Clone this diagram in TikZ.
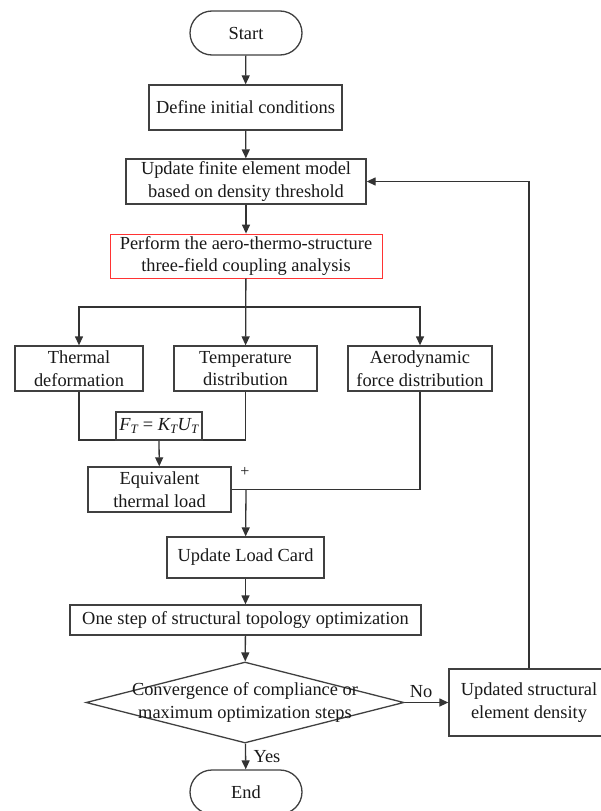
\documentclass[tikz,border=0pt]{standalone}
\usepackage{fontspec}
\setmainfont{Liberation Serif}
\usetikzlibrary{positioning, arrows.meta, calc, shapes.geometric}

\begin{document}
\begin{tikzpicture}[x=1pt, y=-1pt,
    every node/.style={font=\fontsize{18.4}{22.5}\selectfont, text=black!90},
    box/.style={draw=black!75, line width=1.3pt, align=center, inner sep=0pt, fill=white},
    term/.style={box, rounded corners=22pt, minimum width=112pt, minimum height=44pt},
    arrow/.style={draw=black!80, line width=1.3pt, -{Triangle[length=9pt,width=8pt]}},
    link/.style={draw=black!80, line width=1.3pt}]
    \useasboundingbox (0,0) rectangle (600,811);

    % Main column
    \node[term] (start) at (246,33) {Start};
    \node[box, minimum width=193pt, minimum height=45pt] (define) at (245.5,107.5) {Define initial conditions};
    \node[box, minimum width=240pt, minimum height=45pt] (update) at (246,181.5) {Update finite element model\\based on density threshold};
    \node[box, draw=red!80, line width=0.8pt, minimum width=272pt, minimum height=44pt] (perform) at (246,256) {Perform the aero-thermo-structure\\three-field coupling analysis};

    % Three fields
    \node[box, minimum width=128pt, minimum height=45pt] (thermal) at (79,368.5) {Thermal\\deformation};
    \node[box, minimum width=143pt, minimum height=45pt] (temp) at (245.5,368.5) {Temperature\\distribution};
    \node[box, minimum width=144pt, minimum height=45pt] (aero) at (420,368.5) {Aerodynamic\\force distribution};

    \node[box, minimum width=143pt, minimum height=45pt] (equiv) at (159.5,489.5) {Equivalent\\thermal load};
    \node[box, minimum width=157pt, minimum height=41pt] (load) at (245.5,557.5) {Update Load Card};
    \node[box, minimum width=351pt, minimum height=30pt] (onestep) at (245.5,620) {One step of structural topology optimization};

    % Decision and loop back
    \node[diamond, draw=black!75, line width=1.3pt, inner sep=0pt, minimum width=318pt, minimum height=81pt] (conv) at (245,702.5) {};
    \node[align=center] (convtext) at (conv) {Convergence of compliance or\\maximum optimization steps};
    \node[box, minimum width=160pt, minimum height=67pt] (updated) at (529,702.5) {Updated structural\\element density};
    \node[term] (stop) at (246,792) {End};

    % Connectors
    \draw[arrow] (start) -- (define);
    \draw[arrow] (define) -- (update);
    \draw[arrow] (update) -- (perform);
    \coordinate (split) at (246,307);
    \draw[arrow] (perform) -- (temp);
    \draw[arrow] (split) -| (thermal);
    \draw[arrow] (split) -| (aero);

    \coordinate (merge) at (159,440);
    \draw[link] (thermal) |- (merge) -| (temp);
    \draw[arrow] (merge) -- (equiv);
    \node[box, minimum width=86pt, minimum height=28pt] (ft) at (159,426)
        {\itshape F\textsubscript{T}\upshape\ = \itshape K\textsubscript{T}U\textsubscript{T}};

    \draw[link] (equiv) -| (aero);
    \coordinate (join) at (246,489.5);
    \draw[arrow] (join) -- (load);
    \node[font=\fontsize{16}{16}\selectfont] (plus) at (245,472) {+};

    \draw[arrow] (load) -- (onestep);
    \draw[arrow] (onestep) -- (conv);
    \draw[arrow] (conv) -- (updated);
    \node (no) at (421,692) {No};
    \draw[arrow] (conv) -- (stop);
    \node (yes) at (267,757) {Yes};
    \draw[arrow] (updated.north) |- (update);
\end{tikzpicture}
\end{document}
